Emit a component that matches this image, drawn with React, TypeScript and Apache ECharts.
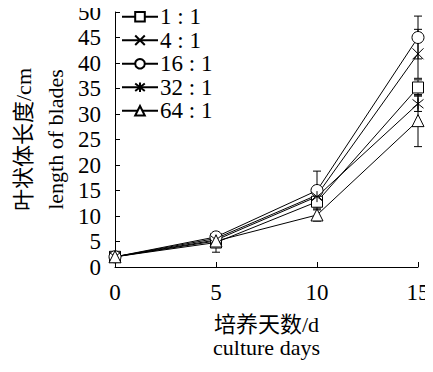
import React, { useEffect, useRef } from "react";
import * as echarts from "echarts";

const days = [0, 5, 10, 15];
const seriesNames = ["1 : 1", "4 : 1", "16 : 1", "32 : 1", "64 : 1"];
const v11 = [2.0, 4.8, 12.8, 35.2];
const v41 = [2.0, 5.6, 14.1, 41.8];
const v161 = [2.0, 5.9, 15.0, 45.0];
const v321 = [2.0, 5.3, 13.8, 32.0];
const v641 = [2.0, 5.1, 10.2, 28.7];
const e11 = [0.3, 1.9, 1.0, 1.5];
const e41 = [0.3, 0.5, 1.0, 4.8];
const e161 = [0.3, 0.5, 3.8, 4.2];
const e321 = [0.3, 0.5, 1.0, 1.5];
const e641 = [0.3, 0.5, 1.2, 5.1];
const yTicks = [0, 50, 5];
const xTicks = [0, 15, 5];

const FONT = "Liberation Serif, Noto Sans CJK SC, serif";
const symbols = [
  "rect",
  "path://M0,0L10,10M10,0L0,10",
  "circle",
  "path://M0,1L10,9M10,1L0,9M5,0L5,10",
  "triangle",
];
const sizes = [11, 11, 12, 11, 12];

export default function App() {
  const ref = useRef<HTMLDivElement>(null);
  useEffect(() => {
    const chart = echarts.init(ref.current!, null, { renderer: "svg" });
    const vals = [v11, v41, v161, v321, v641];
    const errs = [e11, e41, e161, e321, e641];
    const lineSeries = vals.map((v, i) => ({
      type: "line",
      name: seriesNames[i],
      data: days.map((d, j) => [d, v[j]]),
      symbol: symbols[i],
      symbolSize: sizes[i],
      lineStyle: { color: "#000", width: 1 },
      itemStyle: { color: "#fff", borderColor: "#000", borderWidth: 1 },
      z: 3,
    }));
    const errSeries = vals.map((v, i) => ({
      type: "custom",
      name: "err" + i,
      data: days.map((d, j) => [d, v[j] - errs[i][j], v[j] + errs[i][j]]),
      renderItem: (params: any, api: any) => {
        const lo = api.coord([api.value(0), api.value(1)]);
        const hi = api.coord([api.value(0), api.value(2)]);
        const w = 4;
        const st = { stroke: "#000", lineWidth: 1 };
        return {
          type: "group",
          children: [
            { type: "line", shape: { x1: lo[0], y1: lo[1], x2: hi[0], y2: hi[1] }, style: st },
            { type: "line", shape: { x1: lo[0] - w, y1: lo[1], x2: lo[0] + w, y2: lo[1] }, style: st },
            { type: "line", shape: { x1: hi[0] - w, y1: hi[1], x2: hi[0] + w, y2: hi[1] }, style: st },
          ],
        };
      },
      z: 2,
    }));
    chart.setOption({
      animation: false,
      textStyle: { fontFamily: FONT, color: "#000" },
      grid: { left: 115, right: 15, top: 12, bottom: 105, outerBoundsMode: "none", containLabel: false },
      legend: {
        data: seriesNames,
        orient: "vertical",
        left: 121,
        top: 5,
        padding: 0,
        itemGap: 0,
        itemWidth: 36,
        itemHeight: 12,
        textStyle: { fontFamily: FONT, fontSize: 23, color: "#000", lineHeight: 23.5, padding: [0, 0, 0, -3] },
      },
      xAxis: {
        type: "value",
        min: xTicks[0],
        max: xTicks[1],
        interval: xTicks[2],
        name: "培养天数/d\nculture days",
        nameLocation: "middle",
        nameMoveOverlap: false,
        nameGap: 46,
        nameTextStyle: { fontFamily: FONT, fontSize: 22, color: "#000", lineHeight: 23 },
        axisLine: { show: true, lineStyle: { color: "#000", width: 1 } },
        axisTick: { show: true, inside: true, length: 5, lineStyle: { color: "#000" } },
        axisLabel: { fontFamily: FONT, fontSize: 23, color: "#000", margin: 14 },
        splitLine: { show: false },
      },
      yAxis: {
        type: "value",
        min: yTicks[0],
        max: yTicks[1],
        interval: yTicks[2],
        name: "叶状体长度/cm\nlength of blades",
        nameLocation: "middle",
        nameMoveOverlap: false,
        nameRotate: 90,
        nameGap: 44,
        nameTextStyle: { fontFamily: FONT, fontSize: 22, color: "#000", lineHeight: 32 },
        axisLine: { show: true, lineStyle: { color: "#000", width: 1 } },
        axisTick: { show: true, inside: true, length: 5, lineStyle: { color: "#000" } },
        axisLabel: { fontFamily: FONT, fontSize: 23, color: "#000", margin: 14 },
        splitLine: { show: false },
      },
      series: [...errSeries, ...lineSeries],
    });
    return () => chart.dispose();
  }, []);
  return <div ref={ref} style={{ width: 433, height: 372, margin: -8 }} />;
}
